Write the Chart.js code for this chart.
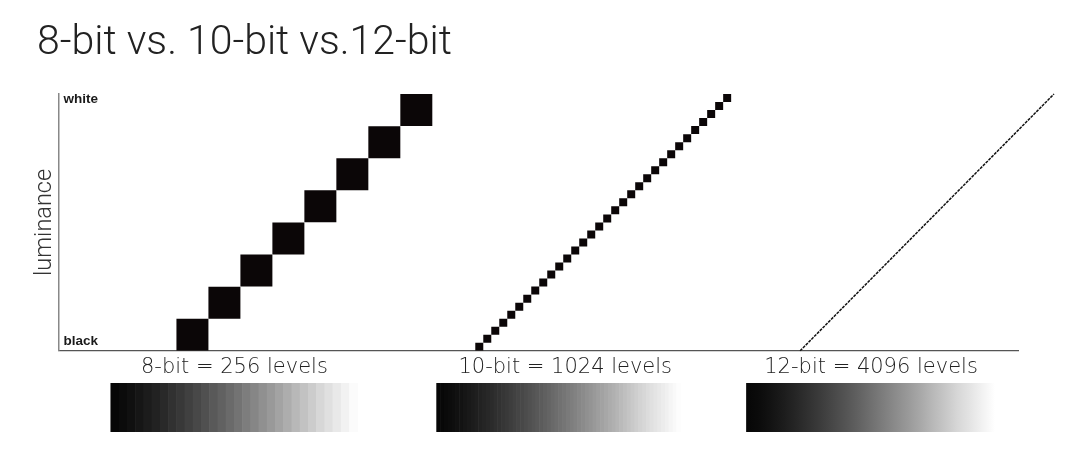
<!DOCTYPE html>
<html>
<head>
<meta charset="utf-8">
<script src="https://cdn.jsdelivr.net/npm/chart.js@4"></script>
<style>
  html, body { margin: 0; padding: 0; background: #fff; }
  #wrap { position: relative; width: 1080px; height: 450px; }
  #title {
    position: absolute; left: 37px; top: 20px; margin: 0;
    font: 300 41px Roboto, 'Open Sans', sans-serif; line-height: 1; color: #222;
    white-space: nowrap;
  }
  canvas { position: absolute; left: 0; top: 0; }
</style>
</head>
<body>
<div id="wrap">
  <canvas id="chart" width="1080" height="450"></canvas>
  <h1 id="title">8-bit vs. 10-bit vs.12-bit</h1>
</div>
<script>
  // step centres (x) and luminance levels (y), in axis units
  const bit8X = [134, 166, 198, 230, 262, 294, 326, 358];
  const bit8Y = [16, 48, 80, 112, 144, 176, 208, 240];
  const bit10X = [421, 429, 437, 445, 453, 461, 469, 477, 485, 493, 501, 509, 517, 525, 533, 541,
                  549, 557, 565, 573, 581, 589, 597, 605, 613, 621, 629, 637, 645, 653, 661, 669];
  const bit10Y = [4, 12, 20, 28, 36, 44, 52, 60, 68, 76, 84, 92, 100, 108, 116, 124,
                  132, 140, 148, 156, 164, 172, 180, 188, 196, 204, 212, 220, 228, 236, 244, 252];
  const bit12X = [742, 996];
  const bit12Y = [0, 256];

  const levelLabels = ['8-bit = 256 levels', '10-bit = 1024 levels', '12-bit = 4096 levels'];
  const levelTicks = [176, 507, 813];
  const lumLabels = ['black', 'white'];
  const lumTicks = [9, 251];
  const rampBands = [30, 64, 0];   // 0 = smooth

  const toPoints = (xs, ys) => xs.map((x, i) => ({ x: x, y: ys[i] }));

  // square marker whose side equals one step on the x scale
  function stepRadius(step) {
    return ctx => {
      const s = ctx.chart.scales.x;
      return Math.abs(s.getPixelForValue(step) - s.getPixelForValue(0)) / 2 / Math.SQRT1_2;
    };
  }

  // grey ramps under each label
  const rampPlugin = {
    id: 'ramps',
    afterDraw(chart, args, opts) {
      const ctx = chart.ctx;
      const xs = chart.scales.x;
      opts.spans.forEach(([a, b], i) => {
        const x0 = xs.getPixelForValue(a), x1 = xs.getPixelForValue(b);
        const y0 = opts.top, h = opts.height;
        const shade = t => {
          // dark -> mid grey -> light grey -> white fade
          let v;
          if (t < 0.85) v = 6 + (215 - 6) * Math.pow(t / 0.85, 1.3);
          else v = 215 + (255 - 215) * ((t - 0.85) / 0.15);
          return Math.round(Math.min(255, v));
        };
        const n = rampBands[i];
        if (n > 0) {
          const w = (x1 - x0) / n;
          for (let k = 0; k < n; k++) {
            const v = shade((k + 0.5) / n);
            ctx.fillStyle = `rgb(${v},${v},${v})`;
            ctx.fillRect(x0 + k * w, y0, w + 0.6, h);
          }
        } else {
          const g = ctx.createLinearGradient(x0, 0, x1, 0);
          for (let k = 0; k <= 20; k++) {
            const v = shade(k / 20);
            g.addColorStop(k / 20, `rgb(${v},${v},${v})`);
          }
          ctx.fillStyle = g;
          ctx.fillRect(x0, y0, x1 - x0, h);
        }
      });
    }
  };

  new Chart(document.getElementById('chart'), {
    type: 'scatter',
    data: {
      datasets: [
        {
          label: '8-bit',
          data: toPoints(bit8X, bit8Y),
          pointStyle: 'rect',
          pointRadius: stepRadius(32),
          pointHoverRadius: stepRadius(32),
          backgroundColor: '#0b0607',
          borderWidth: 0
        },
        {
          label: '10-bit',
          data: toPoints(bit10X, bit10Y),
          pointStyle: 'rect',
          pointRadius: stepRadius(8),
          pointHoverRadius: stepRadius(8),
          backgroundColor: '#0b0607',
          borderWidth: 0
        },
        {
          label: '12-bit',
          type: 'line',
          data: toPoints(bit12X, bit12Y),
          borderColor: '#111',
          borderWidth: 1.5,
          borderDash: [3, 1],
          pointRadius: 0,
          clip: false
        }
      ]
    },
    options: {
      responsive: false,
      animation: false,
      layout: { padding: { left: 19, right: 62, top: 94, bottom: 66 } },
      plugins: {
        legend: { display: false },
        tooltip: { enabled: false },
        ramps: { spans: [[52, 299], [378, 622], [688, 937]], top: 383, height: 49 }
      },
      scales: {
        x: {
          type: 'linear',
          min: 0, max: 960,
          grid: { display: false, drawTicks: false },
          border: { display: true, color: '#555', width: 1.2 },
          afterBuildTicks: axis => { axis.ticks = levelTicks.map(v => ({ value: v })); },
          ticks: {
            autoSkip: false,
            maxRotation: 0,
            padding: 4,
            color: '#222',
            font: { family: 'DejaVu Sans', size: 21, weight: 200 },
            callback: (v, i) => levelLabels[i]
          }
        },
        y: {
          type: 'linear',
          min: 0, max: 256,
          grid: { display: false, drawTicks: false },
          border: { display: true, color: '#888', width: 1.5 },
          afterBuildTicks: axis => { axis.ticks = lumTicks.map(v => ({ value: v })); },
          ticks: {
            mirror: true,
            padding: 5,
            color: '#1a1a1a',
            font: { family: 'Liberation Sans', size: 13.5, weight: 'bold' },
            callback: (v, i) => lumLabels[i]
          },
          title: {
            display: true,
            text: 'luminance',
            color: '#333',
            font: { family: 'Roboto', size: 23.5, weight: 300, lineHeight: 1 },
            padding: { top: 14, bottom: -8 }
          }
        }
      }
    },
    plugins: [rampPlugin]
  });
</script>
</body>
</html>
